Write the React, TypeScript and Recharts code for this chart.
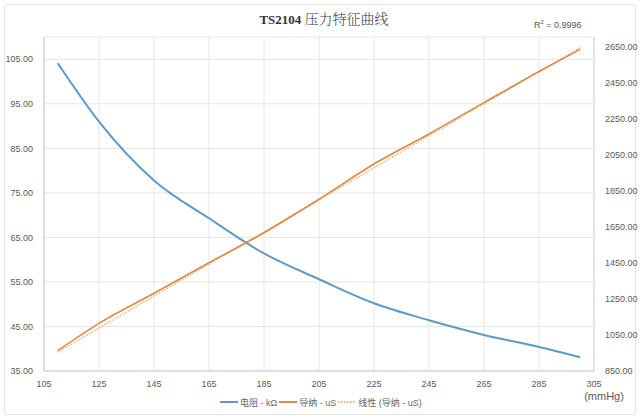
import React from 'react';
import { LineChart, Line, XAxis, YAxis, CartesianGrid, Legend, Label } from 'recharts';

// pressure (mmHg)
const pressure = [110, 125, 145, 165, 185, 205, 225, 245, 265, 285, 300];
// resistance, kΩ (left axis)
const resistance = [104.1, 91.0, 77.8, 69.3, 61.4, 55.6, 50.2, 46.4, 43.1, 40.4, 38.1];
// conductance, uS (right axis)
const conductance = [963, 1115, 1282, 1452, 1619, 1805, 2001, 2168, 2342, 2515, 2639];
// linear trend of conductance
const trendPressure = [110, 300];
const trendConductance = [955, 2648];

const xTicks = [105, 125, 145, 165, 185, 205, 225, 245, 265, 285, 305];
const leftTicks = [35, 45, 55, 65, 75, 85, 95, 105];
const rightTicks = [850, 1050, 1250, 1450, 1650, 1850, 2050, 2250, 2450, 2650];

const seriesNames = ['电阻 - kΩ', '导纳 - uS', '线性 (导纳 - uS)'];

const BLUE = '#5f9ac4';
const ORANGE = '#dc8a45';
const TREND = '#eeb27a';

const data = pressure.map((p, i) => ({ p, r: resistance[i], g: conductance[i] }));
const trendData = trendPressure.map((p, i) => ({ p, t: trendConductance[i] }));

const tickStyle = { fontSize: 9, fill: '#5a5a5a', fontFamily: 'Liberation Sans, Arial, sans-serif' };

function LegendContent() {
  const items = [
    { name: seriesNames[0], color: BLUE, dash: undefined },
    { name: seriesNames[1], color: ORANGE, dash: undefined },
    { name: seriesNames[2], color: TREND, dash: '1.5 1.5' },
  ];
  return (
    <div style={{ display: 'flex', justifyContent: 'center', alignItems: 'center', height: 14, paddingBottom: 10, paddingLeft: 4, fontSize: 9, color: '#666', fontFamily: 'Liberation Sans, "Noto Sans CJK SC", sans-serif' }}>
      {items.map((it) => (
        <span key={it.name} style={{ display: 'flex', alignItems: 'center', marginRight: 2 }}>
          <svg width={18} height={6}>
            <line x1={0} y1={3} x2={18} y2={3} stroke={it.color} strokeWidth={2} strokeDasharray={it.dash} />
          </svg>
          <span style={{ marginLeft: 2 }}>{it.name}</span>
        </span>
      ))}
    </div>
  );
}

export default function App() {
  return (
    <div style={{ position: 'absolute', left: 0, top: 0, width: 640, height: 419, background: '#fff' }}>
      <div style={{ position: 'absolute', left: 4, top: 4, width: 630, height: 409, border: '1px solid #e4e4e4', borderRadius: 2 }} />
      <div style={{ position: 'absolute', left: 0, top: 8, width: 648, textAlign: 'center', fontSize: 14, color: '#333' }}>
        <span style={{ fontFamily: 'Liberation Serif, serif', fontWeight: 'bold', fontSize: 13 }}>TS2104 </span>
        <span style={{ fontFamily: '"Noto Serif CJK SC", "Noto Sans CJK SC", serif', fontWeight: 300, color: '#444' }}>压力特征曲线</span>
      </div>
      <div style={{ position: 'absolute', left: 534, top: 19, fontSize: 9, color: '#555', fontFamily: 'Liberation Sans, Arial, sans-serif' }}>
        R<sup style={{ fontSize: 6 }}>2</sup> = 0.9996
      </div>
      <LineChart width={640} height={419} margin={{ top: 37, right: 0, left: 0, bottom: 0 }} style={{ position: 'absolute', left: 0, top: 0 }}>
        <CartesianGrid yAxisId="left" stroke="#e6e6e6" strokeWidth={1} />
        <XAxis
          dataKey="p"
          type="number"
          domain={[105, 305]}
          ticks={xTicks}
          allowDataOverflow
          height={24}
          tickLine={false}
          axisLine={{ stroke: '#c8c8c8' }}
          tick={tickStyle}
          tickMargin={4}
        >
          <Label
            content={(props: any) => {
              const vb = props.viewBox;
              return (
                <text x={vb.x + vb.width + 10} y={vb.y + 29} textAnchor="middle" fontSize={11} fill="#5a5a5a" fontFamily="Liberation Sans, Arial, sans-serif">
                  (mmHg)
                </text>
              );
            }}
          />
        </XAxis>
        <YAxis
          yAxisId="left"
          width={44}
          domain={[35, 110]}
          ticks={leftTicks}
          tickFormatter={(v: number) => v.toFixed(2)}
          tickLine={false}
          axisLine={{ stroke: '#c8c8c8' }}
          tick={tickStyle}
          tickMargin={5}
        />
        <YAxis
          yAxisId="right"
          orientation="right"
          width={46}
          domain={[850, 2707]}
          ticks={rightTicks}
          tickFormatter={(v: number) => v.toFixed(2)}
          tickLine={false}
          axisLine={{ stroke: '#d8d8d8' }}
          tick={tickStyle}
          tickMargin={5}
        />
        <Legend verticalAlign="bottom" height={24} content={LegendContent} />
        <Line
          yAxisId="left"
          data={data}
          dataKey="r"
          name={seriesNames[0]}
          type="monotone"
          stroke={BLUE}
          strokeWidth={2}
          dot={false}
          isAnimationActive={false}
        />
        <Line
          yAxisId="right"
          data={trendData}
          dataKey="t"
          name={seriesNames[2]}
          type="linear"
          stroke={TREND}
          strokeWidth={1.5}
          strokeDasharray="1.5 1.5"
          dot={false}
          isAnimationActive={false}
        />
        <Line
          yAxisId="right"
          data={data}
          dataKey="g"
          name={seriesNames[1]}
          type="monotone"
          stroke={ORANGE}
          strokeWidth={1.6}
          dot={false}
          isAnimationActive={false}
        />
      </LineChart>
    </div>
  );
}
